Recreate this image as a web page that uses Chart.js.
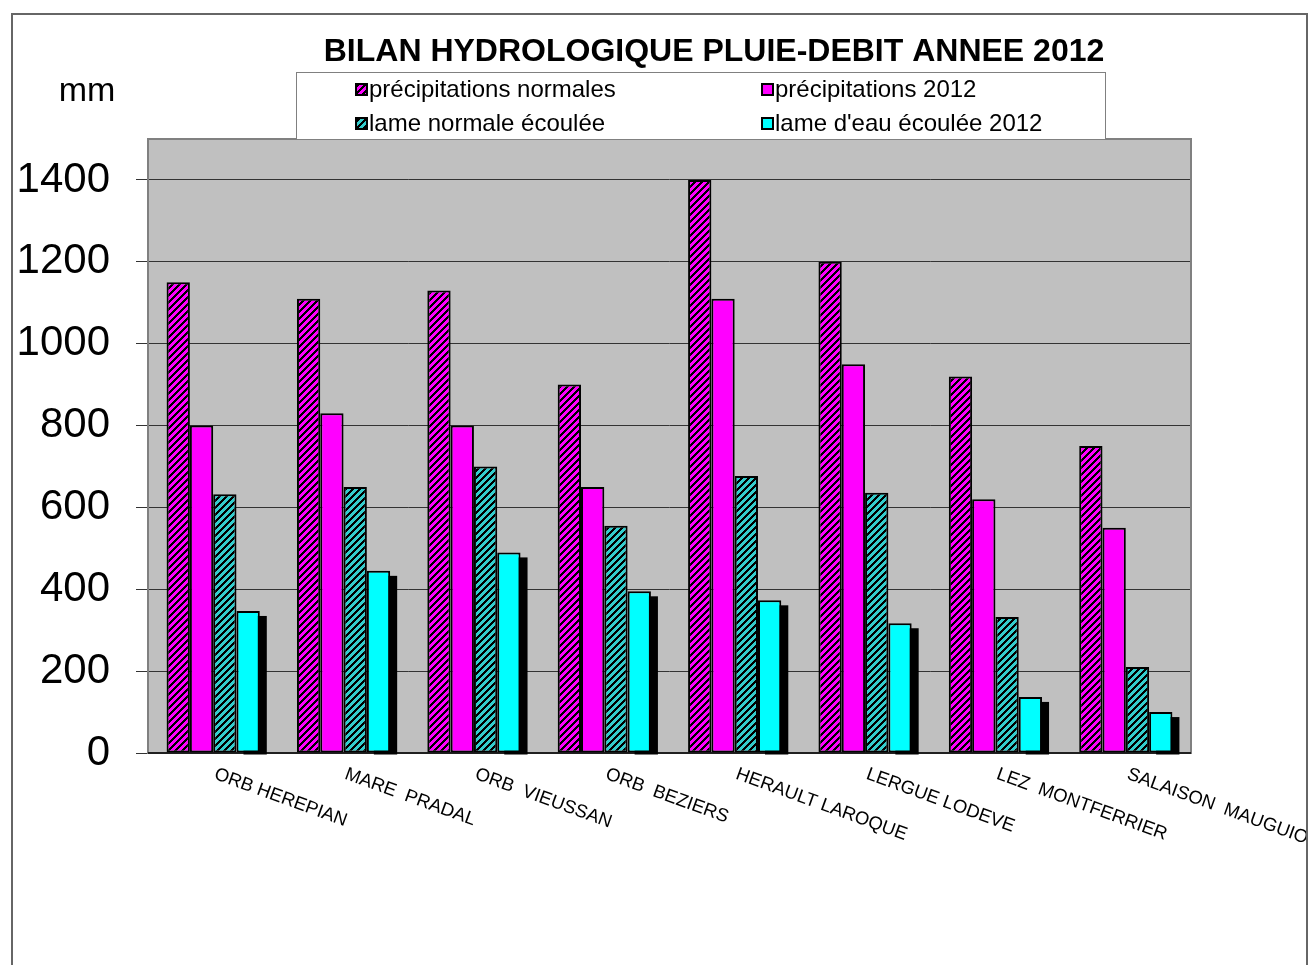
<!DOCTYPE html>
<html>
<head>
<meta charset="utf-8">
<script src="https://cdn.jsdelivr.net/npm/chart.js@4"></script>
<style>
  html, body { margin: 0; padding: 0; background: #ffffff; }
  #wrap { width: 1309px; height: 965px; position: relative; }
</style>
</head>
<body>
<div id="wrap"><canvas id="c" width="1309" height="965"></canvas></div>
<script>
const categories = ['ORB HEREPIAN', 'MARE  PRADAL', 'ORB  VIEUSSAN', 'ORB  BEZIERS', 'HERAULT LAROQUE', 'LERGUE LODEVE', 'LEZ  MONTFERRIER', 'SALAISON  MAUGUIO'];
const seriesLabels = ['précipitations normales', 'précipitations 2012', 'lame normale écoulée', "lame d'eau écoulée 2012"];
const precipNormales = [1150, 1110, 1130, 900, 1400, 1200, 920, 750];
const precip2012 = [800, 830, 800, 650, 1110, 950, 620, 550];
const lameNormale = [632, 650, 700, 555, 677, 636, 332, 210];
const lame2012 = [347, 445, 490, 395, 373, 317, 137, 100];
const yTickValues = [0, 200, 400, 600, 800, 1000, 1200, 1400];
const titleText = 'BILAN HYDROLOGIQUE PLUIE-DEBIT ANNEE 2012';
const unitText = 'mm';

function hatch(base) {
  const s = 7;
  const cv = document.createElement('canvas');
  cv.width = s; cv.height = s;
  const cx = cv.getContext('2d');
  cx.fillStyle = base;
  cx.fillRect(0, 0, s, s);
  cx.fillStyle = '#000000';
  for (let x = 0; x < s; x++) {
    for (let y = 0; y < s; y++) {
      if ((x + y) % s < 3) cx.fillRect(x, y, 1, 1);
    }
  }
  return cx.createPattern(cv, 'repeat');
}

const magHatch = hatch('#ff00ff');
const tealHatch = hatch('#33cccc');
const fills = [magHatch, '#ff00ff', tealHatch, '#00ffff'];

const FONT = "'Liberation Sans', Arial, sans-serif";

const decor = {
  id: 'decor',
  beforeDraw(chart) {
    const ctx = chart.ctx;
    const a = chart.chartArea;
    ctx.save();
    ctx.fillStyle = '#ffffff';
    ctx.fillRect(0, 0, chart.width, chart.height);
    ctx.fillStyle = '#c0c0c0';
    ctx.fillRect(a.left, a.top, a.right - a.left, a.bottom - a.top);
    ctx.restore();
  },
  beforeDatasetsDraw(chart) {
    const ctx = chart.ctx;
    const a = chart.chartArea;
    ctx.save();
    ctx.strokeStyle = '#808080';
    ctx.lineWidth = 2;
    ctx.strokeRect(a.left, a.top, a.right - a.left, a.bottom - a.top);
    ctx.strokeStyle = '#000000';
    ctx.lineWidth = 1.5;
    ctx.beginPath();
    ctx.moveTo(a.left, a.bottom);
    ctx.lineTo(a.right, a.bottom);
    ctx.stroke();
    // shadow of the last series
    const meta = chart.getDatasetMeta(3);
    ctx.fillStyle = '#000000';
    meta.data.forEach(el => {
      const w = el.width;
      ctx.fillRect(el.x - w / 2 + 7, el.y + 5, w, el.base - el.y - 3);
    });
    ctx.restore();
  },
  afterDraw(chart) {
    const ctx = chart.ctx;
    const xs = chart.scales.x;
    ctx.save();
    // x labels rotated clockwise
    ctx.fillStyle = '#000000';
    ctx.font = '18.5px ' + FONT;
    ctx.textAlign = 'left';
    ctx.textBaseline = 'top';
    categories.forEach((lab, i) => {
      const px = xs.getPixelForTick(i);
      ctx.save();
      ctx.translate(px + 5, 765);
      ctx.rotate(20 * Math.PI / 180);
      ctx.fillText(lab, 0, 0);
      ctx.restore();
    });
    // title
    ctx.font = 'bold 32px ' + FONT;
    ctx.textAlign = 'center';
    ctx.textBaseline = 'middle';
    ctx.fillText(titleText, 714, 52);
    // unit
    ctx.font = '34px ' + FONT;
    ctx.fillText(unitText, 87, 92);
    // legend box
    ctx.fillStyle = '#ffffff';
    ctx.fillRect(296, 72, 809, 67);
    ctx.strokeStyle = '#808080';
    ctx.lineWidth = 1;
    ctx.strokeRect(296.5, 72.5, 809, 67);
    const pos = [[356, 89], [762, 89], [356, 123], [762, 123]];
    ctx.font = '24px ' + FONT;
    ctx.textAlign = 'left';
    ctx.textBaseline = 'middle';
    chart.data.datasets.forEach((ds, i) => {
      const [lx, ly] = pos[i];
      ctx.fillStyle = ds.backgroundColor;
      ctx.fillRect(lx, ly - 5, 11, 11);
      ctx.strokeStyle = '#000000';
      ctx.lineWidth = 2;
      ctx.strokeRect(lx, ly - 5, 11, 11);
      ctx.fillStyle = '#000000';
      ctx.fillText(ds.label, lx + 13, ly + 1);
    });
    // outer border
    ctx.strokeStyle = '#666666';
    ctx.lineWidth = 2;
    ctx.strokeRect(12, 14, 1295, 980);
    ctx.restore();
  }
};

new Chart(document.getElementById('c'), {
  type: 'bar',
  data: {
    labels: categories,
    datasets: [
      { label: seriesLabels[0], data: precipNormales, backgroundColor: fills[0] },
      { label: seriesLabels[1], data: precip2012, backgroundColor: fills[1] },
      { label: seriesLabels[2], data: lameNormale, backgroundColor: fills[2] },
      { label: seriesLabels[3], data: lame2012, backgroundColor: fills[3] }
    ].map(d => Object.assign(d, { borderColor: '#000000', borderWidth: 2, borderSkipped: false }))
  },
  options: {
    responsive: false,
    animation: false,
    devicePixelRatio: 1,
    layout: { padding: { top: 139, right: 118, left: 0, bottom: 0 } },
    categoryPercentage: 0.715,
    barPercentage: 1.0,
    plugins: { legend: { display: false }, title: { display: false }, tooltip: { enabled: false } },
    scales: {
      x: {
        ticks: { display: false },
        grid: { display: false },
        border: { display: false },
        afterFit(s) { s.height = 212; }
      },
      y: {
        min: 0,
        max: 1500,
        ticks: {
          stepSize: 200,
          color: '#000000',
          font: { family: FONT, size: 42 },
          padding: 26,
          callback: (v) => String(v)
        },
        afterBuildTicks(s) { s.ticks = yTickValues.map(v => ({ value: v })); },
        afterFit(s) { s.width = 148; },
        grid: { color: '#333333', lineWidth: 1, tickLength: 12, drawTicks: true },
        border: { display: false }
      }
    }
  },
  plugins: [decor]
});
</script>
</body>
</html>
